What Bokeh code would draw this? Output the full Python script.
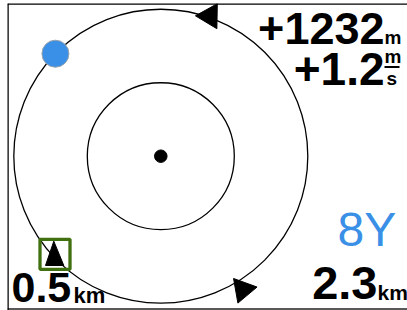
from bokeh.plotting import figure
from bokeh.models import Range1d, Span
from bokeh.core.properties import value
from bokeh.embed import file_html
from bokeh.resources import INLINE
import numpy as np

# ---- data ----
ring_radii = [1.0, 2.0]                 # range rings (display units)
own_xy = [0.0, 0.0]                     # own position (centre)
traffic_bearing_deg = [135.8]           # blue traffic target, math angle
traffic_dist = [2.0]
arrow_bearing_deg = [70.7, -58.4]       # direction-arrow marks on outer ring
arrow_dist = [2.02, 2.13]
arrow_heading_deg = [89.0, 40.0]        # rotation of each arrow
altitude_text = ["+1232"]
altitude_unit = ["m"]
vspeed_text = ["+1.2"]
vspeed_unit_top = ["m"]
vspeed_unit_bottom = ["s"]
scale_text = ["0.5"]
scale_unit = ["km"]
dist_text = ["2.3"]
dist_unit = ["km"]
target_label = ["8Y"]

# ---- layout (pixel geometry of the canvas) ----
W, H = 400, 307
LEFT, TOP = 7, 3
K = 73.5
CX, CY = 160.3, 155.7
BASE_SHIFT = 0.37   # renderer places alphabetic baseline ~0.37em low


def px(sx, sy):
    return (sx - CX) / K, (CY - sy) / K


x0, y1 = px(LEFT, TOP)
x1, y0 = px(LEFT + W, TOP + H)

p = figure(width=W, height=H, output_backend="svg", toolbar_location=None,
           x_range=Range1d(x0, x1), y_range=Range1d(y0, y1),
           min_border=0, outline_line_color=None,
           styles={"margin-left": f"{LEFT}px", "margin-top": f"{TOP}px"})
p.axis.visible = False
p.grid.visible = False
p.background_fill_color = "white"
p.border_fill_color = "white"

# rings
p.circle(x=[own_xy[0]] * len(ring_radii), y=[own_xy[1]] * len(ring_radii),
         radius=ring_radii, fill_color=None, line_color="black", line_width=1.3)

# own position dot
p.scatter(x=[own_xy[0]], y=[own_xy[1]], size=12.5, marker="circle",
          fill_color="black", line_color="black")

# traffic target
tb = np.radians(traffic_bearing_deg)
p.scatter(x=np.array(traffic_dist) * np.cos(tb), y=np.array(traffic_dist) * np.sin(tb),
          size=27, marker="circle", fill_color="#3a8fe6", line_color="#9aa4ad", line_width=1)

# arrows on the outer ring
ab = np.radians(arrow_bearing_deg)
p.scatter(x=np.array(arrow_dist) * np.cos(ab), y=np.array(arrow_dist) * np.sin(ab),
          size=25, marker="triangle", angle=np.radians(arrow_heading_deg),
          fill_color="black", line_color="black")

# north-up indicator box
bx, by = px(54.5, 253.8)
p.rect(x=[bx], y=[by], width=30, height=30, width_units="screen", height_units="screen",
       fill_color=None, line_color="#407010", line_width=3.3)
tri_dx = np.array([-1.2, -9.5, 8.8]) / K
tri_dy = np.array([13.1, -11.2, -11.2]) / K
p.patch(x=bx + tri_dx, y=by + tri_dy, fill_color="black", line_color="black")

# frame
p.add_layout(Span(location=y1, dimension="width", line_color="black", line_width=2.5))
p.add_layout(Span(location=px(0, 308.5)[1], dimension="width", line_color="#222222", line_width=1.5))
p.add_layout(Span(location=x0, dimension="height", line_color="black", line_width=2.5))

FONT = value("Liberation Sans")


def txt(sx, sy, t, size, align="left", bold=True, color="black"):
    x, y = px(sx, sy - BASE_SHIFT * size)
    p.text(x=[x], y=[y], text=t, text_font=FONT, text_font_size=f"{size}px",
           text_font_style="bold" if bold else "normal", text_align=align,
           text_baseline="alphabetic", text_color=color)


# altitude
txt(384, 44.5, altitude_text, 45, "right")
txt(384, 44.5, altitude_unit, 19)
# vertical speed
txt(384, 86, vspeed_text, 46, "right")
txt(384, 63, vspeed_unit_top, 19)
txt(386, 85, vspeed_unit_bottom, 19)
fx0, fy = px(384, 66.5)
fx1, _ = px(399, 66.5)
p.segment(x0=[fx0], y0=[fy], x1=[fx1], y1=[fy], line_color="black", line_width=2)
# scale
txt(11, 303, scale_text, 43)
txt(73, 303, scale_unit, 22)
# distance
txt(377, 300, dist_text, 47, "right")
txt(377, 300, dist_unit, 21)
# target label
txt(337, 247, target_label, 48, bold=False, color="#3a8fe6")

open("out.html", "w").write(file_html(p, INLINE))
